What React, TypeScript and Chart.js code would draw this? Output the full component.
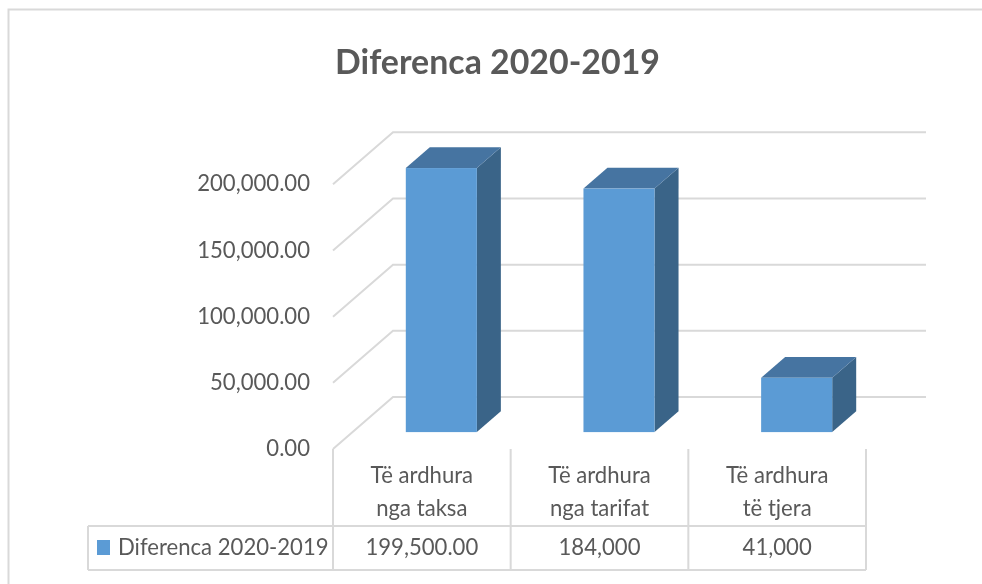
import React, { useEffect, useRef } from "react";
import { Chart, registerables } from "chart.js";

Chart.register(...registerables);

// ---------- data ----------
const chartTitle = "Diferenca 2020-2019";
const seriesName = "Diferenca 2020-2019";
const categories: string[][] = [
  ["Të ardhura", "nga taksa"],
  ["Të ardhura", "nga tarifat"],
  ["Të ardhura", "të tjera"],
];
const values: number[] = [199500, 184000, 41000];
const valueDecimals: number[] = [2, 0, 0];
const yMin = 0;
const yMax = 200000;
const yStep = 50000;

// ---------- style ----------
const FONT = "Lato, 'Open Sans', sans-serif";
const TEXT = "#595959";
const GRID = "#d9d9d9";
const FRONT = "#5b9bd5";
const TOPC = "#4674a1";
const SIDE = "#3a6488";
const DX = 60;
const DY = -52;
const BAR_FRONT = 0.325;
const BAR_BACK = 0.725;

function fitSize(text: string, weight: string, target: number): number {
  const c = document.createElement("canvas").getContext("2d")!;
  c.font = `${weight} 100px ${FONT}`;
  return (100 * target) / c.measureText(text).width;
}

const fmt = (v: number, d: number) =>
  v.toLocaleString("en-US", { minimumFractionDigits: d, maximumFractionDigits: d });

export default function App() {
  const ref = useRef<HTMLCanvasElement>(null);

  useEffect(() => {
    const canvas = ref.current!;
    const titleSize = fitSize(chartTitle, "bold", 325);
    const bodySize =
      (fitSize("200,000.00", "normal", 110) +
        fitSize("Të ardhura", "normal", 106) +
        fitSize("Diferenca 2020-2019", "normal", 209)) /
      3;
    const titleLH = titleSize * 1.2;
    const titlePadTop = 63 - titleLH / 2;
    const titlePadBottom = 184.3 - titlePadTop - titleLH;

    const threeD = {
      id: "threeD",
      beforeDraw(chart: any) {
        const ctx = chart.ctx;
        ctx.save();
        ctx.strokeStyle = GRID;
        ctx.lineWidth = 2;
        ctx.strokeRect(8.5, 9.5, 1100, 700);
        ctx.restore();
      },
      beforeDatasetsDraw(chart: any) {
        const { ctx, chartArea: a, scales } = chart;
        const ys = scales.y;
        ctx.save();
        ctx.strokeStyle = GRID;
        ctx.lineWidth = 2;
        ys.ticks.forEach((t: any) => {
          const py = ys.getPixelForValue(t.value);
          ctx.beginPath();
          ctx.moveTo(a.left, py);
          ctx.lineTo(a.left + DX, py + DY);
          ctx.lineTo(a.right + DX, py + DY);
          ctx.stroke();
        });
        ctx.restore();
      },
      afterDatasetsDraw(chart: any) {
        const ctx = chart.ctx;
        const meta = chart.getDatasetMeta(0);
        ctx.save();
        meta.data.forEach((el: any) => {
          const p = el.getProps(["x", "y", "base", "width"], true);
          const l = p.x - p.width / 2 + DX * BAR_FRONT;
          const r = p.x + p.width / 2 + DX * BAR_FRONT;
          const t = p.y + DY * BAR_FRONT;
          const b = p.base + DY * BAR_FRONT;
          const ox = DX * (BAR_BACK - BAR_FRONT);
          const oy = DY * (BAR_BACK - BAR_FRONT);
          ctx.fillStyle = SIDE;
          ctx.beginPath();
          ctx.moveTo(r, t);
          ctx.lineTo(r + ox, t + oy);
          ctx.lineTo(r + ox, b + oy);
          ctx.lineTo(r, b);
          ctx.closePath();
          ctx.fill();
          ctx.fillStyle = TOPC;
          ctx.beginPath();
          ctx.moveTo(l, t);
          ctx.lineTo(l + ox, t + oy);
          ctx.lineTo(r + ox, t + oy);
          ctx.lineTo(r, t);
          ctx.closePath();
          ctx.fill();
          ctx.fillStyle = FRONT;
          ctx.fillRect(l, t, r - l, b - t);
        });
        ctx.restore();
      },
      afterDraw(chart: any) {
        const { ctx, chartArea: a, scales } = chart;
        const xs = scales.x;
        const n = categories.length;
        const w = n > 1 ? xs.getPixelForValue(1) - xs.getPixelForValue(0) : a.right - a.left;
        const rowTop = 526;
        const rowBottom = 570;
        const legLeft = 88;
        const rowMid = 548;
        ctx.save();
        ctx.strokeStyle = GRID;
        ctx.lineWidth = 2;
        ctx.beginPath();
        for (let i = 0; i <= n; i++) {
          const bx = xs.getPixelForValue(0) - w / 2 + i * w;
          ctx.moveTo(bx, a.bottom);
          ctx.lineTo(bx, rowBottom);
        }
        ctx.moveTo(legLeft, rowTop);
        ctx.lineTo(a.right, rowTop);
        ctx.moveTo(legLeft, rowBottom);
        ctx.lineTo(a.right, rowBottom);
        ctx.moveTo(legLeft, rowTop);
        ctx.lineTo(legLeft, rowBottom);
        ctx.stroke();

        ctx.fillStyle = FRONT;
        ctx.fillRect(97, 540, 13, 15);

        ctx.fillStyle = TEXT;
        ctx.font = `normal ${bodySize}px ${FONT}`;
        ctx.textBaseline = "middle";
        ctx.textAlign = "left";
        ctx.fillText(seriesName, 118, rowMid);
        ctx.textAlign = "center";
        values.forEach((v, i) => {
          ctx.fillText(fmt(v, valueDecimals[i]), xs.getPixelForValue(i), rowMid);
        });
        ctx.restore();
      },
    };

    const chart = new Chart(canvas, {
      type: "bar",
      data: {
        labels: categories,
        datasets: [
          {
            label: seriesName,
            data: values,
            backgroundColor: "rgba(0,0,0,0)",
            borderWidth: 0,
            barPercentage: 0.4,
            categoryPercentage: 1.0,
          },
        ],
      },
      options: {
        responsive: false,
        animation: false,
        devicePixelRatio: 1,
        layout: { padding: { left: 129, right: 116, top: 0, bottom: 0 } },
        plugins: {
          legend: { display: false },
          tooltip: { enabled: false },
          title: {
            display: true,
            text: chartTitle,
            color: TEXT,
            font: { family: FONT, size: titleSize, weight: "bold", lineHeight: 1.2 },
            padding: { top: titlePadTop, bottom: titlePadBottom },
          },
        },
        scales: {
          x: {
            grid: { display: false, drawTicks: false },
            border: { display: false },
            ticks: {
              color: TEXT,
              font: { family: FONT, size: bodySize, lineHeight: 33 / bodySize },
              padding: 10.5,
              maxRotation: 0,
              autoSkip: false,
            },
            afterFit: (s: any) => {
              s.height = 135;
            },
          },
          y: {
            min: yMin,
            max: yMax,
            grid: { display: false, drawTicks: false },
            border: { display: false },
            ticks: {
              stepSize: yStep,
              color: TEXT,
              font: { family: FONT, size: bodySize },
              padding: 23,
              callback: (v: any) => fmt(Number(v), 2),
            },
            afterFit: (s: any) => {
              s.width = 204;
            },
          },
        },
      },
      plugins: [threeD],
    });
    return () => chart.destroy();
  }, []);

  return (
    <div style={{ position: "absolute", left: 0, top: 0, width: 982, height: 584 }}>
      <canvas ref={ref} width={982} height={584} style={{ display: "block" }} />
    </div>
  );
}
